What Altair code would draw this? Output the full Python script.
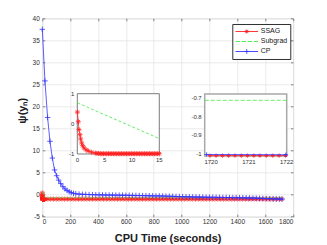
import altair as alt
import pandas as pd

# ---------------- data ----------------
series_names = ["SSAG", "Subgrad", "CP"]

# CP (blue, '+')
cp_t = [0, 19, 38, 55, 72, 88, 103, 117, 132, 148, 163, 178, 193, 208, 224, 240,
        264, 288, 312, 336, 360, 384, 408, 432, 456, 480,
        504, 528, 552, 576, 600, 624, 648, 672, 696, 720,
        744, 768, 792, 816, 840, 864, 888, 912, 936, 960,
        984, 1008, 1032, 1056, 1080, 1104, 1128, 1152, 1176, 1200,
        1224, 1248, 1272, 1296, 1320, 1344, 1368, 1392, 1416, 1440,
        1464, 1488, 1512, 1536, 1560, 1584, 1608, 1632, 1656, 1680,
        1704, 1722]
cp_y = [37.5, 25.8, 17.5, 12.1, 8.3, 5.6, 4.3, 3.3, 2.5, 1.8, 1.3, 0.95, 0.65, 0.45, 0.3, 0.2,
        0.12, 0.08, 0.05, 0.02, 0.0, -0.02, -0.04, -0.06, -0.07, -0.09,
        -0.1, -0.11, -0.12, -0.13, -0.14, -0.16, -0.17, -0.19, -0.2, -0.22,
        -0.24, -0.25, -0.27, -0.29, -0.3, -0.32, -0.34, -0.36, -0.38, -0.41,
        -0.44, -0.46, -0.48, -0.5, -0.51, -0.53, -0.55, -0.56, -0.58, -0.59,
        -0.6, -0.62, -0.63, -0.64, -0.65, -0.66, -0.67, -0.68, -0.7, -0.72,
        -0.74, -0.76, -0.78, -0.8, -0.83, -0.86, -0.89, -0.92, -0.95, -0.98,
        -1.0, -1.004]

# SSAG (red, '*')
ssag_t = [0.02, 0.18, 0.3, 0.49, 0.61, 0.79, 0.98, 1.22, 1.59, 2.0, 2.62, 3.3,
          3.6, 3.9, 4.2, 4.5, 4.8, 5.1, 5.4, 5.7, 6.0, 6.3,
          6.6, 6.9, 7.2, 7.5, 7.8, 8.1, 8.4, 8.7, 9.0, 9.3,
          9.6, 9.9, 10.2, 10.5, 10.8, 11.1, 11.4, 11.7, 12.0, 12.3,
          12.6, 12.9, 13.2, 13.5, 13.8, 14.1, 14.4, 14.7, 15.0,
          20, 40, 60, 80, 100, 120, 140, 160, 180, 200,
          220, 240, 260, 280, 300, 320, 340, 360, 380, 400,
          420, 440, 460, 480, 500, 520, 540, 560, 580, 600,
          620, 640, 660, 680, 700, 720, 740, 760, 780, 800,
          820, 840, 860, 880, 900, 920, 940, 960, 980, 1000,
          1020, 1040, 1060, 1080, 1100, 1120, 1140, 1160, 1180, 1200,
          1220, 1240, 1260, 1280, 1300, 1320, 1340, 1360, 1380, 1400,
          1420, 1440, 1460, 1480, 1500, 1520, 1540, 1560, 1580, 1600,
          1620, 1640, 1660, 1680, 1700, 1720]
ssag_y = [0.39, 0.07, -0.19, -0.36, -0.5, -0.63, -0.72, -0.8, -0.86, -0.9, -0.94, -0.97,
          -0.98, -0.98, -0.99, -0.99, -0.99, -0.99, -0.99, -0.99, -0.99, -0.99,
          -0.99, -0.99, -0.99, -0.99, -0.99, -0.99, -0.99, -0.99, -0.99, -0.99,
          -0.99, -0.99, -0.99, -0.99, -0.99, -0.99, -0.99, -0.99, -0.99, -0.99,
          -0.99, -0.99, -0.99, -0.99, -0.99, -0.99, -0.99, -0.99, -0.99,
          -1.0, -1.0, -1.0, -1.0, -1.0, -1.0, -1.0, -1.0, -1.0, -1.0,
          -1.0, -1.0, -1.0, -1.0, -1.0, -1.0, -1.0, -1.0, -1.0, -1.0,
          -1.0, -1.0, -1.0, -1.0, -1.0, -1.0, -1.0, -1.0, -1.0, -1.0,
          -1.0, -1.0, -1.0, -1.0, -1.0, -1.0, -1.0, -1.0, -1.0, -1.0,
          -1.0, -1.0, -1.0, -1.0, -1.0, -1.0, -1.0, -1.0, -1.0, -1.0,
          -1.0, -1.0, -1.0, -1.0, -1.0, -1.0, -1.0, -1.0, -1.0, -1.0,
          -1.0, -1.0, -1.0, -1.0, -1.0, -1.0, -1.0, -1.0, -1.0, -1.0,
          -1.0, -1.0, -1.0, -1.0, -1.0, -1.0, -1.0, -1.0, -1.0, -1.0,
          -1.0, -1.0, -1.0, -1.0, -1.0, -1.0]

# Subgrad (green, dashed)
sub_t = [0, 15, 20, 30, 60, 200, 1722]
sub_y = [0.70, -0.49, -0.60, -0.67, -0.70, -0.71, -0.711]

# zoomed-in values near the end (second inset)
z2_ssag_t = [1719.97, 1720.13, 1720.30, 1720.46, 1720.63, 1720.80, 1720.96,
             1721.13, 1721.29, 1721.46, 1721.63, 1721.80, 1721.97]
z2_ssag_y = [-1.009, -1.009, -1.009, -1.009, -1.009, -1.009, -1.009,
             -1.009, -1.009, -1.009, -1.009, -1.009, -1.009]
z2_cp_t = [1719.88, 1721.98]
z2_cp_y = [-1.003, -1.004]
z2_sub_t = [1719.83, 1722.0]
z2_sub_y = [-0.711, -0.711]

# axes domains / ticks / tick labels
main_x_domain = [0, 1800]
main_y_domain = [-5, 40]
main_x_ticks = [0, 200, 400, 600, 800, 1000, 1200, 1400, 1600, 1800]
main_y_ticks = [-5, 0, 5, 10, 15, 20, 25, 30, 35, 40]
in1_x_domain = [0, 15]
in1_y_domain = [-1, 1]
in1_x_ticks = [0, 5, 10, 15]
in1_x_labels = ["0", "5", "10", "15"]
in1_y_ticks = [-1, 0, 1]
in1_y_labels = ["-1", "0", "1"]
in2_x_domain = [1719.83, 1722]
in2_y_domain = [-1.011, -0.677]
in2_x_ticks = [1720, 1721, 1722]
in2_x_labels = ["1720", "1721", "1722"]
in2_y_ticks = [-1, -0.9, -0.8, -0.7]
in2_y_labels = ["-1", "-0.9", "-0.8", "-0.7"]

# ---------------- styling ----------------
FONT = "Liberation Sans"
RED, GREEN, BLUE = "#ff2020", "#44e844", "#3434ff"
LBL = "#303030"
W, H = 250.7, 198.4
ASTER = "M-1,0L1,0M0,-1L0,1M-0.7,-0.7L0.7,0.7M-0.7,0.7L0.7,-0.7"
PLUS = "M-1,0L1,0M0,-1L0,1"
LEG_SSAG = "M-1,0L1,0M-0.18,0L0.18,0M0,-0.18L0,0.18M-0.13,-0.13L0.13,0.13M-0.13,0.13L0.13,-0.13"
LEG_SUB = "M-1,0L-0.6,0M-0.47,0L-0.07,0M0.07,0L0.47,0M0.6,0L1,0"
LEG_CP = "M-1,0L1,0M-0.2,0L0.2,0M0,-0.2L0,0.2"
MINUS = "replace(datum.label, '\u2212', '-')"

ssag_df = pd.DataFrame({"t": ssag_t, "y": ssag_y})
cp_df = pd.DataFrame({"t": cp_t, "y": cp_y})
sub_df = pd.DataFrame({"t": sub_t, "y": sub_y})

# ---------------- main plot ----------------
xs = alt.Scale(domain=main_x_domain, nice=False, zero=False)
ys = alt.Scale(domain=main_y_domain, nice=False, zero=False)

ax_x = alt.Axis(values=main_x_ticks, format="d", title="CPU Time (seconds)", grid=True, domain=False,
                ticks=False, labelFontSize=6.5, labelPadding=2, labelColor=LBL, labelFont=FONT,
                titleFont=FONT, titleFontSize=11, titleFontWeight="bold", titlePadding=7,
                titleColor="#202020", gridColor="#e4e4e4", gridWidth=0.8)
ax_y = alt.Axis(values=main_y_ticks, title="\u03c8(y\u2099)", grid=True, domain=False,
                ticks=False, labelFontSize=6.5, labelPadding=3, labelColor=LBL, labelFont=FONT,
                labelExpr=MINUS, titleFont=FONT, titleFontSize=11, titleFontWeight="bold",
                titlePadding=5, titleY=92, titleColor="#202020", gridColor="#e4e4e4", gridWidth=0.8)
tick_common = dict(labels=False, grid=False, domain=False, ticks=True, tickSize=2.5,
                   tickColor="#666666", tickWidth=0.8, title=None)
ax_x_in_b = alt.Axis(orient="top", offset=-H, values=main_x_ticks, **tick_common)
ax_x_in_t = alt.Axis(orient="bottom", offset=-H, values=main_x_ticks, **tick_common)
ax_y_in_l = alt.Axis(orient="right", offset=-W, values=main_y_ticks, **tick_common)
ax_y_in_r = alt.Axis(orient="left", offset=-W, values=main_y_ticks, **tick_common)

enc_main = dict(x=alt.X("t:Q", scale=xs, axis=None), y=alt.Y("y:Q", scale=ys, axis=None))
red_line = alt.Chart(ssag_df).mark_line(color=RED, strokeWidth=0.8).encode(
    x=alt.X("t:Q", scale=xs, axis=ax_x), y=alt.Y("y:Q", scale=ys, axis=ax_y))
red_pts = alt.Chart(ssag_df).mark_point(shape=ASTER, color=RED, filled=False, size=25,
                                        strokeWidth=0.8, opacity=1).encode(
    x=alt.X("t:Q", scale=xs, axis=ax_x_in_b), y=alt.Y("y:Q", scale=ys, axis=ax_y_in_l))
green_line = alt.Chart(sub_df).mark_line(color=GREEN, strokeWidth=0.8, strokeDash=[3, 2]).encode(
    x=alt.X("t:Q", scale=xs, axis=ax_x_in_t), y=alt.Y("y:Q", scale=ys, axis=ax_y_in_r))
blue_line = alt.Chart(cp_df).mark_line(color=BLUE, strokeWidth=0.8).encode(**enc_main)
blue_pts = alt.Chart(cp_df).mark_point(shape=PLUS, color=BLUE, filled=False, size=30,
                                       strokeWidth=0.8, opacity=1).encode(**enc_main)

legend_df = pd.DataFrame({"series": series_names, "t": [None, None, None], "y": [None, None, None]})
leg = alt.Legend(orient="none", legendX=190, legendY=5.7, title=None, symbolSize=510,
                 clipHeight=10, rowPadding=0, padding=2.5, labelFontSize=7, labelFont=FONT,
                 labelColor="#202020", labelOffset=2, symbolStrokeWidth=0.9,
                 strokeColor="#303030", fillColor="white")
legend_layer = alt.Chart(legend_df).mark_point(filled=False, opacity=1).encode(
    x=alt.X("t:Q", scale=xs, axis=None), y=alt.Y("y:Q", scale=ys, axis=None),
    color=alt.Color("series:N", scale=alt.Scale(domain=series_names, range=[RED, GREEN, BLUE]), legend=leg),
    shape=alt.Shape("series:N", scale=alt.Scale(domain=series_names, range=[LEG_SSAG, LEG_SUB, LEG_CP]), legend=leg))

main = alt.layer(red_line, red_pts, green_line, blue_line, blue_pts, legend_layer).resolve_axis(
    x="independent", y="independent")

txt = dict(font=FONT, fontSize=6, color=LBL)


def inset(x_dom, y_dom, x_rng, y_rng, x_ticks, x_labels, y_ticks, y_labels, box_stroke, box_w, layers):
    sx = alt.Scale(domain=x_dom, range=x_rng, nice=False, zero=False)
    sy = alt.Scale(domain=y_dom, range=y_rng, nice=False, zero=False)
    box_df = pd.DataFrame({"x0": [x_dom[0]], "x1": [x_dom[1]], "y0": [y_dom[0]], "y1": [y_dom[1]]})
    box = alt.Chart(box_df).mark_rect(fill="white", stroke=box_stroke, strokeWidth=box_w).encode(
        x=alt.X("x0:Q", scale=sx, axis=None), x2="x1:Q",
        y=alt.Y("y0:Q", scale=sy, axis=None), y2="y1:Q")
    xl_df = pd.DataFrame({"v": x_ticks, "lab": x_labels, "base": [y_dom[0]] * len(x_ticks)})
    yl_df = pd.DataFrame({"v": y_ticks, "lab": y_labels, "base": [x_dom[0]] * len(y_ticks)})
    xl = alt.Chart(xl_df).mark_text(baseline="top", align="center", dy=3, **txt).encode(
        x=alt.X("v:Q", scale=sx, axis=None), y=alt.Y("base:Q", scale=sy, axis=None), text="lab:N")
    yl = alt.Chart(yl_df).mark_text(baseline="middle", align="right", dx=-3, **txt).encode(
        x=alt.X("base:Q", scale=sx, axis=None), y=alt.Y("v:Q", scale=sy, axis=None), text="lab:N")
    marks = [lay(sx, sy) for lay in layers]
    return alt.layer(box, *marks, xl, yl)


def line_layer(df, color, dash=None, filt=None):
    def make(sx, sy):
        c = alt.Chart(df)
        if filt:
            c = c.transform_filter(filt)
        kw = dict(color=color, strokeWidth=0.8)
        if dash:
            kw["strokeDash"] = dash
        return c.mark_line(**kw).encode(x=alt.X("t:Q", scale=sx, axis=None),
                                        y=alt.Y("y:Q", scale=sy, axis=None))
    return make


def point_layer(df, color, shape, size, filt=None):
    def make(sx, sy):
        c = alt.Chart(df)
        if filt:
            c = c.transform_filter(filt)
        return c.mark_point(shape=shape, color=color, filled=False, size=size, strokeWidth=0.8,
                            opacity=1).encode(x=alt.X("t:Q", scale=sx, axis=None),
                                              y=alt.Y("y:Q", scale=sy, axis=None))
    return make


z2_ssag_df = pd.DataFrame({"t": z2_ssag_t, "y": z2_ssag_y})
z2_cp_df = pd.DataFrame({"t": z2_cp_t, "y": z2_cp_y})
z2_sub_df = pd.DataFrame({"t": z2_sub_t, "y": z2_sub_y})

F15 = "datum.t <= 15"
inset1 = inset(in1_x_domain, in1_y_domain, [35.0, 117.0], [135.7, 75.4],
               in1_x_ticks, in1_x_labels, in1_y_ticks, in1_y_labels, "#5a5a5a", 0.8,
               [line_layer(ssag_df, RED, filt=F15),
                point_layer(ssag_df, RED, ASTER, 25, filt=F15),
                line_layer(sub_df, GREEN, dash=[3, 2], filt=F15)])

inset2 = inset(in2_x_domain, in2_y_domain, [162.4, 244.4], [137.7, 75.7],
               in2_x_ticks, in2_x_labels, in2_y_ticks, in2_y_labels, "#a8a8a8", 1.5,
               [line_layer(z2_ssag_df, RED),
                point_layer(z2_ssag_df, RED, ASTER, 18),
                line_layer(z2_sub_df, GREEN, dash=[4, 2]),
                line_layer(z2_cp_df, BLUE),
                point_layer(z2_cp_df, BLUE, PLUS, 20)])

chart = alt.layer(main, inset1, inset2).resolve_scale(
    x="independent", y="independent").resolve_axis(
    x="independent", y="independent").properties(
    width=W, height=H,
    autosize=alt.AutoSizeParams(type="none"),
    padding={"left": 34.3, "top": 10.3, "right": 18, "bottom": 28},
).configure_view(stroke="#9a9a9a", strokeWidth=1).configure(background="white")

chart.save("out.html", embed_options={"renderer": "svg", "actions": False})
